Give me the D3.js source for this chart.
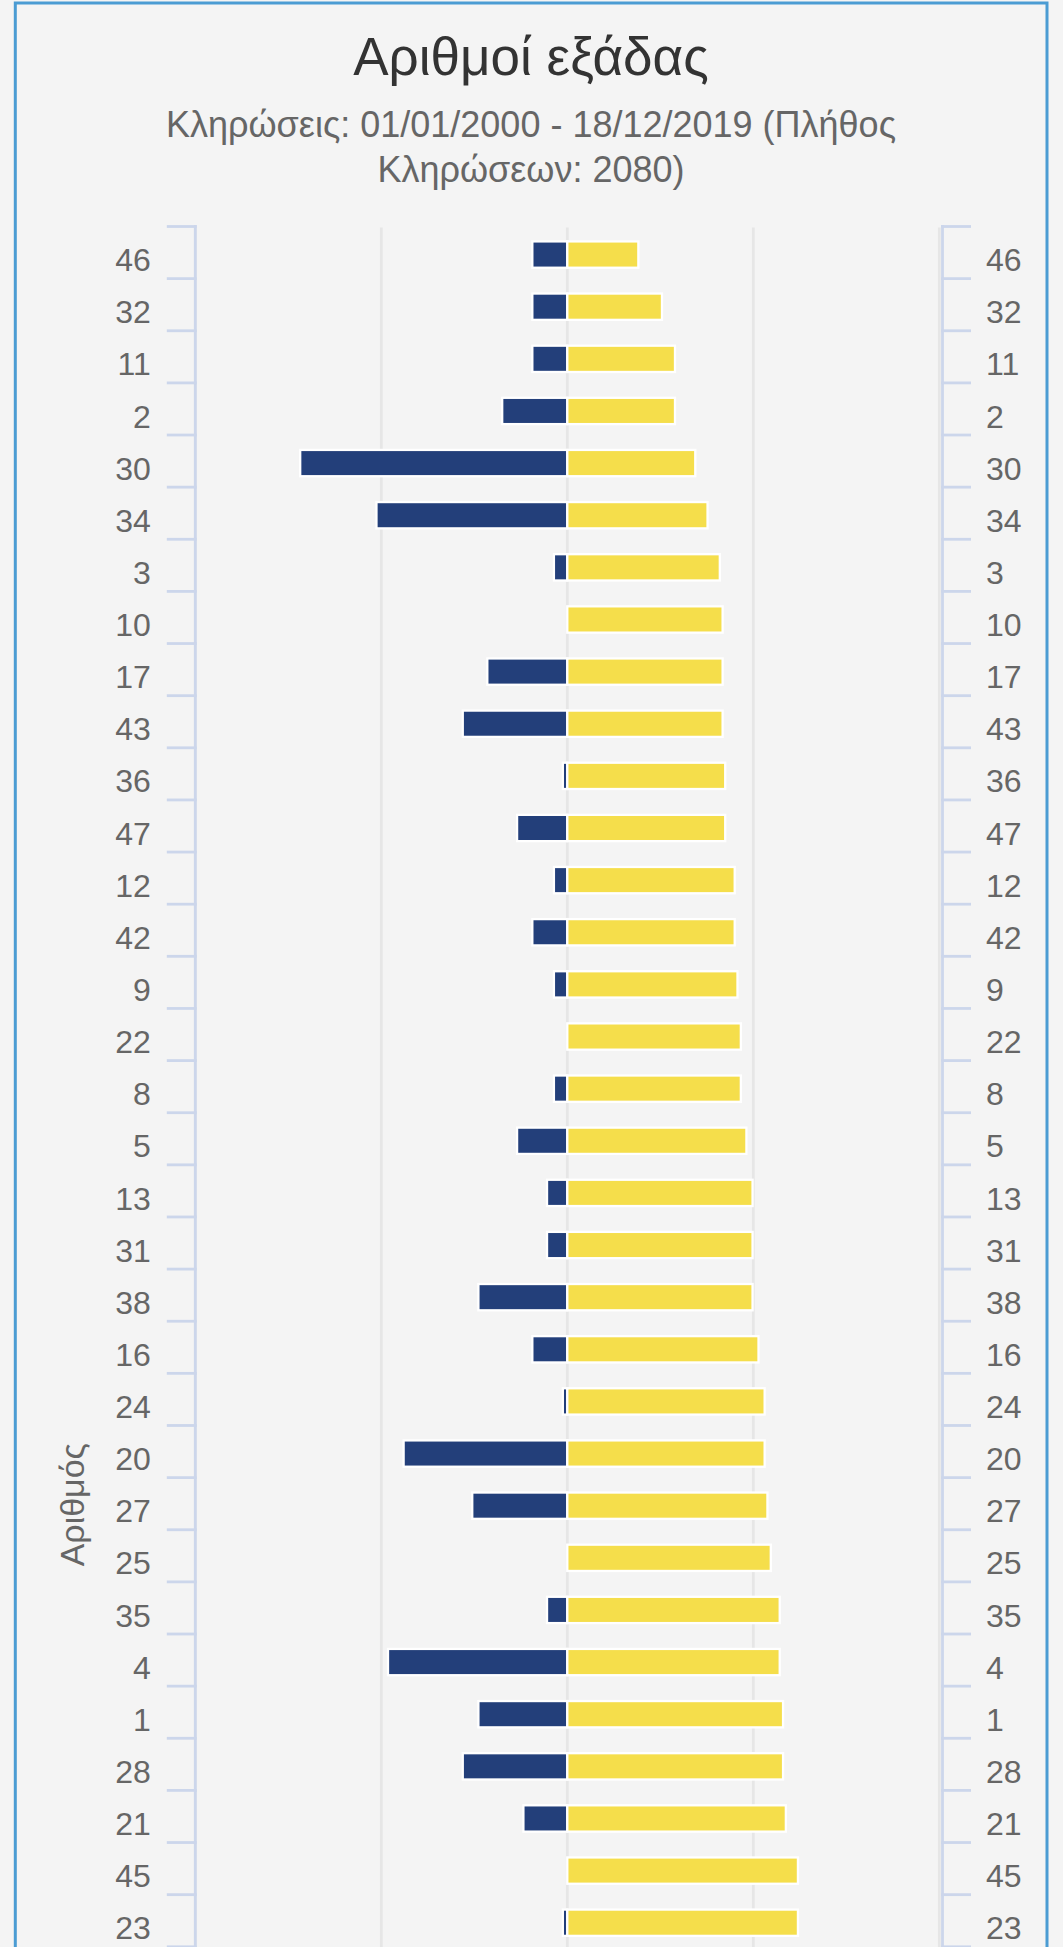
<!DOCTYPE html>
<html>
<head>
<meta charset="utf-8">
<script src="https://cdn.jsdelivr.net/npm/d3@7"></script>
<style>
html, body { margin: 0; padding: 0; background: #f4f4f4; overflow: hidden; }
svg { display: block; }
text { font-family: "Liberation Sans", Arial, Helvetica, sans-serif; }
</style>
</head>
<body>
<svg id="chart" width="1063" height="1947"></svg>
<script>
// ---- data ----
const categories = ["46","32","11","2","30","34","3","10","17","43","36","47","12","42","9","22","8","5","13","31","38","16","24","20","27","25","35","4","1","28","21","45","23"];
const yellowValues = [38.2,50.9,57.9,57.9,68.8,75.4,82.0,83.5,83.5,83.5,84.9,84.9,90.0,90.0,91.5,93.3,93.3,96.3,99.6,99.6,99.6,102.8,106.1,106.1,107.6,109.4,114.2,114.2,116.0,116.0,117.5,124.0,124.0];
const blueValues = [-18.8,-18.8,-18.8,-35.0,-143.6,-102.6,-7.2,0,-43.0,-56.2,-2.4,-27.0,-7.2,-18.8,-7.2,0,-7.2,-27.0,-10.9,-10.9,-47.8,-18.8,-2.4,-88.0,-51.1,0,-10.9,-96.4,-47.8,-56.2,-23.6,0,-2.4];
const xTickValues = [-200, -100, 0, 100, 200];
const titleText = "Αριθμοί εξάδας";
const subtitleLines = ["Κληρώσεις: 01/01/2000 - 18/12/2019 (Πλήθος", "Κληρώσεων: 2080)"];
const yAxisTitleText = "Αριθμός";
const totalNumbers = 49; // full axis length (the picture is cut off at the bottom)

// ---- layout ----
const W = 1063, H = 1947;
const plotLeft = 195.3, plotRight = 939.3, plotTop = 227.5, step = 52.13;
const rightAxisX = 942.5;
const axisColor = "#ccd6eb", gridColor = "#e6e6e6";
const navy = "#233f7a", yellow = "#f5de4b";

const svg = d3.select("#chart");

svg.append("rect").attr("x", 15.3).attr("y", 3).attr("width", 1047 - 15.3).attr("height", H + 20)
  .attr("fill", "#f4f4f4").attr("stroke", "#4b9cd3").attr("stroke-width", 3);

const x = d3.scaleLinear().domain([-200, 200]).range([plotLeft, plotRight]);
const y = d3.scaleBand().domain(categories).range([plotTop, plotTop + categories.length * step]).padding(0);
const bw = y.bandwidth();

// title & subtitle
svg.append("text").attr("x", 531).attr("y", 75).attr("text-anchor", "middle")
  .attr("fill", "#333333").style("font-size", "53px").text(titleText);
svg.selectAll("text.sub").data(subtitleLines).enter().append("text").attr("class", "sub")
  .attr("x", 531).attr("y", (d, i) => 137 + i * 45).attr("text-anchor", "middle")
  .attr("fill", "#666666").style("font-size", "36px").text(d => d);

// gridlines
svg.append("g").selectAll("line").data(xTickValues).enter().append("line")
  .attr("x1", d => x(d)).attr("x2", d => x(d)).attr("y1", plotTop).attr("y2", H + 10)
  .attr("stroke", gridColor).attr("stroke-width", 2.8);

// axes lines
svg.append("line").attr("x1", plotLeft).attr("x2", plotLeft).attr("y1", plotTop - 2.5).attr("y2", H + 10)
  .attr("stroke", axisColor).attr("stroke-width", 2.8);
svg.append("line").attr("x1", rightAxisX).attr("x2", rightAxisX).attr("y1", plotTop - 2.5).attr("y2", H + 10)
  .attr("stroke", axisColor).attr("stroke-width", 2.8);

// tick marks between categories
const bounds = categories.map(c => y(c)).concat([y(categories[categories.length - 1]) + bw]);
svg.append("g").selectAll("line").data(bounds).enter().append("line")
  .attr("x1", plotLeft - 28.5).attr("x2", plotLeft + 1.4).attr("y1", d => d - 1).attr("y2", d => d - 1)
  .attr("stroke", axisColor).attr("stroke-width", 2.8);
svg.append("g").selectAll("line").data(bounds).enter().append("line")
  .attr("x1", rightAxisX - 1.4).attr("x2", rightAxisX + 28.5).attr("y1", d => d - 1).attr("y2", d => d - 1)
  .attr("stroke", axisColor).attr("stroke-width", 2.8);

// category labels via d3 axes
const leftAxis = svg.append("g").attr("transform", `translate(${plotLeft},0)`)
  .call(d3.axisLeft(y).tickSize(0).tickPadding(44.5));
const rightAxis = svg.append("g").attr("transform", `translate(${rightAxisX},0)`)
  .call(d3.axisRight(y).tickSize(0).tickPadding(43.5));
[leftAxis, rightAxis].forEach(g => {
  g.select(".domain").remove();
  g.selectAll("text").attr("dy", "0.55em").attr("fill", "#666666")
    .style("font-size", "32px").style("font-family", '"Liberation Sans", Arial, sans-serif');
});

// bars
const rows = categories.map((c, i) => ({ c, blue: blueValues[i], yel: yellowValues[i] }));
const barH = 26.3;
svg.append("g").selectAll("rect").data(rows.filter(d => d.blue < 0)).enter().append("rect")
  .attr("x", d => x(d.blue)).attr("width", d => x(0) - x(d.blue))
  .attr("y", d => y(d.c) + (bw - barH) / 2 + 1).attr("height", barH)
  .attr("fill", navy).attr("stroke", "#ffffff").attr("stroke-width", 2.3);
svg.append("g").selectAll("rect").data(rows).enter().append("rect")
  .attr("x", d => x(0)).attr("width", d => x(d.yel) - x(0))
  .attr("y", d => y(d.c) + (bw - barH) / 2 + 1).attr("height", barH)
  .attr("fill", yellow).attr("stroke", "#ffffff").attr("stroke-width", 2.3);

// y axis title
const titleY = plotTop + totalNumbers * step / 2;
svg.append("text").attr("transform", `translate(83.5,${titleY}) rotate(-90)`)
  .attr("text-anchor", "middle").attr("fill", "#666666").style("font-size", "34px").text(yAxisTitleText);
</script>
</body>
</html>
